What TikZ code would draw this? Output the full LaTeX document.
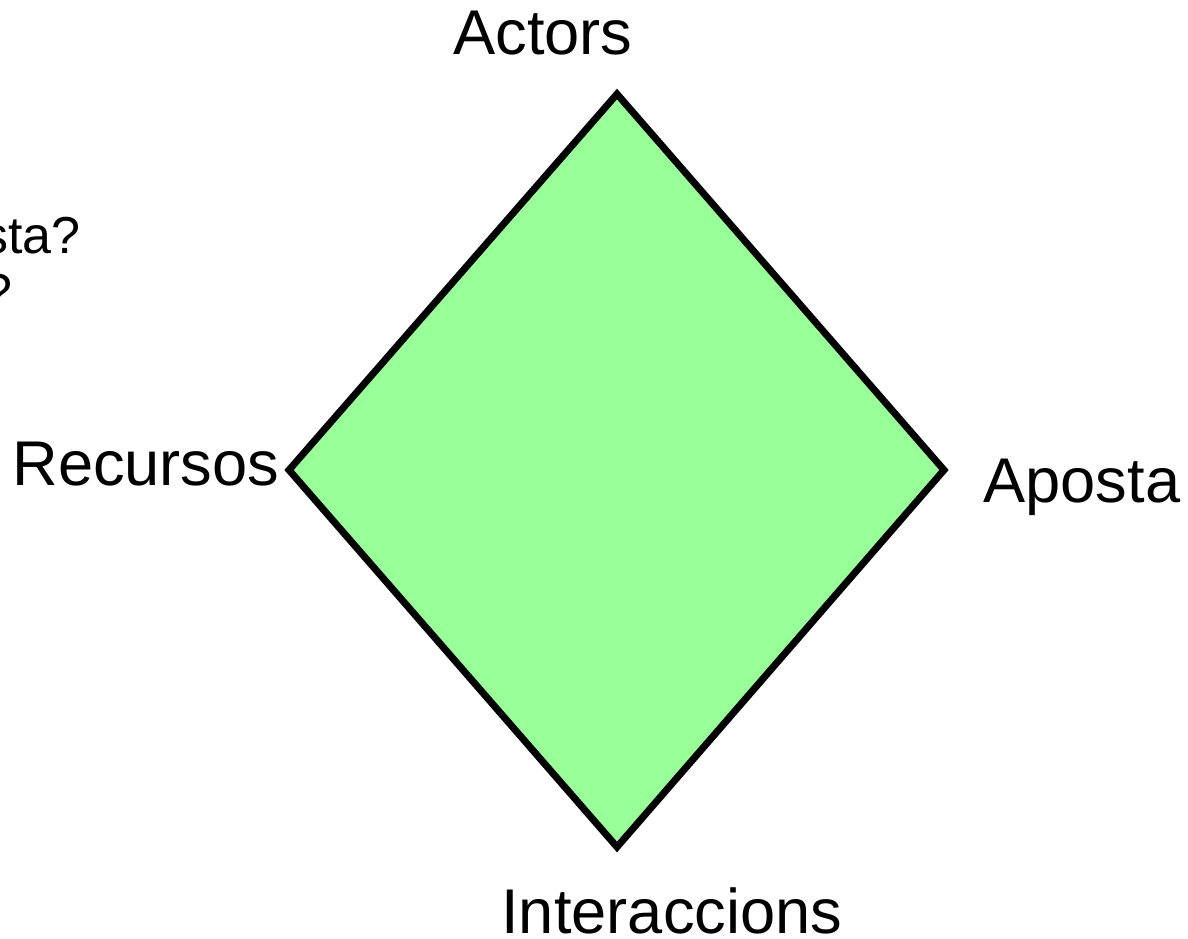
\documentclass[tikz,border=0pt]{standalone}
\usepackage{fontspec}
\setmainfont{Liberation Sans}
\definecolor{diamondgreen}{HTML}{99FF99}
\tikzset{
  lbl/.style={inner sep=0pt, font=\fontsize{31.6pt}{37pt}\selectfont},
  smalllbl/.style={inner sep=0pt, font=\fontsize{26pt}{31pt}\selectfont},
  diamondline/.style={draw=black, line width=3.5pt, fill=diamondgreen, line join=miter}
}
\begin{document}
\begin{tikzpicture}[x=0.5pt, y=-0.5pt]
\useasboundingbox (0,0) rectangle (1188,938);
\coordinate (top) at (617,94);
\coordinate (left) at (289,470);
\coordinate (right) at (944,470);
\coordinate (bottom) at (617,847);
\draw[diamondline] (top) -- (right) -- (bottom) -- (left) -- cycle;
\node[lbl, anchor=base west] (actors) at (453,54) {Actors};
\node[lbl, anchor=base west] (recursos) at (12,485) {Recursos};
\node[lbl, anchor=base west] (aposta) at (983,502) {Aposta};
\node[lbl, anchor=base west] (interaccions) at (501,933) {Interaccions};
\node[smalllbl, anchor=base east] (q1) at (81,253) {sta?};
\node[smalllbl, anchor=base east] (q2) at (13,310) {?};
\end{tikzpicture}
\end{document}
